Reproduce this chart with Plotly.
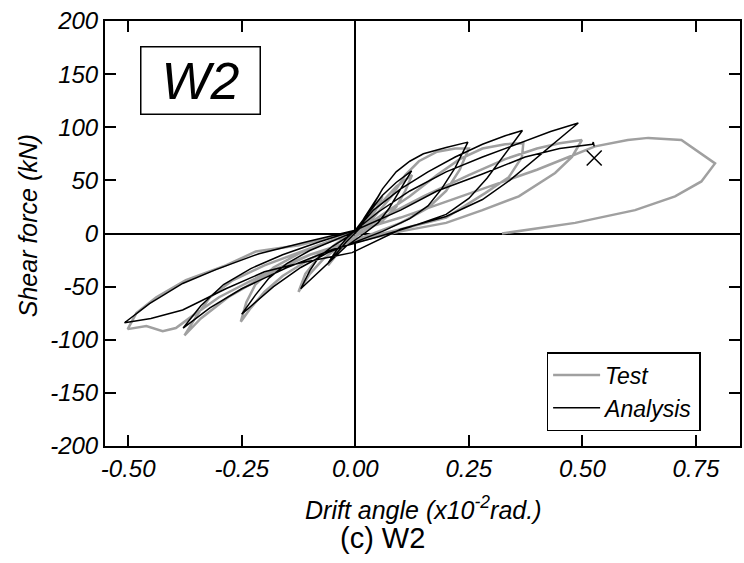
import plotly.graph_objects as go

# ---------------- data ----------------
# Test (grey) hysteresis path
test_x = [0.0, 0.02, 0.04, 0.06, 0.045, 0.02, 0.0, -0.03, -0.06, -0.045, -0.02, 0.0,
          0.03, 0.06, 0.09, 0.125, 0.11, 0.09, 0.06, 0.02, -0.03, -0.07, -0.10, -0.125, -0.11, -0.08, -0.04, 0.0,
          0.04, 0.08, 0.11, 0.14, 0.18, 0.22, 0.25, 0.23, 0.20, 0.16, 0.10, 0.04, -0.04, -0.10, -0.16, -0.20, -0.23, -0.252,
          -0.24, -0.22, -0.18, -0.12, -0.06, 0.0,
          0.05, 0.12, 0.18, 0.23, 0.28, 0.33, 0.37, 0.367, 0.338, 0.286, 0.20, 0.10, 0.0, -0.10, -0.20, -0.28, -0.34, -0.376,
          -0.35, -0.32, -0.27, -0.20, -0.12, -0.05, 0.0,
          0.06, 0.15, 0.25, 0.33, 0.40, 0.45, 0.499, 0.477, 0.44, 0.36, 0.28, 0.20, 0.10, 0.0, -0.10, -0.20, -0.30, -0.36,
          -0.395, -0.424, -0.46, -0.501, -0.482, -0.438, -0.373, -0.285, -0.219, -0.124, -0.05, 0.0,
          0.10, 0.20, 0.30, 0.40, 0.47, 0.528, 0.60, 0.645, 0.718, 0.792, 0.762, 0.704, 0.616, 0.484, 0.323]
test_y = [0, 12, 25, 35, 22, 6, -4, -14, -30, -18, -6, 2,
          15, 30, 44, 55, 40, 25, 12, 2, -10, -24, -38, -55, -38, -22, -9, 1,
          15, 35, 55, 68, 77, 80, 80, 60, 40, 24, 10, 0, -12, -24, -40, -55, -70, -83,
          -65, -48, -32, -18, -8, 0,
          15, 35, 55, 70, 80, 84, 85, 72, 53, 38, 15, 4, -6, -20, -40, -60, -80, -96,
          -78, -60, -44, -30, -17, -6, 0,
          15, 35, 55, 70, 80, 85, 88, 72, 57, 35, 22, 10, 2, -8, -20, -38, -60, -78,
          -89, -92, -87, -90, -75, -60, -44, -30, -17, -11, -3, 2,
          15, 30, 45, 60, 72, 82, 88, 90, 88, 66, 49, 35, 22, 10, 0]

# Analysis (black) hysteresis path
ana_x = [0.0, 0.02, 0.04, 0.055, 0.03, 0.01, -0.02, -0.045, -0.06, -0.04, -0.02, 0.0,
         0.03, 0.06, 0.09, 0.124, 0.10, 0.075, 0.05, 0.02, -0.02, -0.06, -0.09, -0.12,
         -0.10, -0.08, -0.05, -0.02, 0.0,
         0.03, 0.06, 0.09, 0.12, 0.15, 0.20, 0.248, 0.22, 0.19, 0.16, 0.12, 0.06, 0.0, -0.06, -0.12, -0.18, -0.25,
         -0.22, -0.19, -0.15, -0.10, -0.05, 0.0,
         0.04, 0.10, 0.16, 0.22, 0.28, 0.33, 0.368, 0.33, 0.29, 0.25, 0.20, 0.12, 0.05, -0.05, -0.15, -0.25, -0.32, -0.379,
         -0.34, -0.29, -0.23, -0.16, -0.08, 0.0,
         0.05, 0.12, 0.20, 0.28, 0.36, 0.43, 0.491, 0.40, 0.34, 0.28, 0.20, 0.10, -0.007, -0.124, -0.20, -0.285, -0.38, -0.45, -0.508,
         -0.453, -0.38, -0.307, -0.212, -0.10, 0.0,
         0.10, 0.18, 0.28, 0.374, 0.45, 0.50, 0.522, 0.524, 0.526]
ana_y = [0, 15, 28, 38, 20, 5, -8, -20, -28, -15, -5, 3,
         20, 36, 48, 59, 42, 24, 10, 0, -12, -28, -40, -52,
         -35, -22, -12, -4, 3,
         20, 42, 58, 68, 75, 81, 86, 62, 42, 26, 14, 2, -8, -18, -32, -50, -76,
         -58, -42, -28, -16, -7, 2,
         22, 42, 58, 72, 84, 92, 97, 75, 52, 33, 18, 6, -3, -15, -32, -52, -70, -89,
         -68, -48, -33, -20, -8, 3,
         20, 40, 58, 72, 85, 96, 104, 72, 50, 32, 16, 4, -18, -28, -36, -52, -72, -80, -84,
         -66, -47, -34, -19, -7, 3,
         22, 40, 56, 72, 80, 83, 84, 86, 82]

fail_x = [0.526]
fail_y = [71]

x_ticks = [-0.50, -0.25, 0.00, 0.25, 0.50, 0.75]
x_tick_labels = ["-0.50", "-0.25", "0.00", "0.25", "0.50", "0.75"]
y_ticks = [200, 150, 100, 50, 0, -50, -100, -150, -200]
y_tick_labels = ["200", "150", "100", "50", "0", "-50", "-100", "-150", "-200"]

FONT = "Liberation Sans, Arial, sans-serif"

fig = go.Figure()
fig.add_trace(go.Scatter(x=test_x, y=test_y, mode="lines", name="Test",
                         line=dict(color="#a0a0a0", width=2.5)))
fig.add_trace(go.Scatter(x=ana_x, y=ana_y, mode="lines", name="Analysis",
                         line=dict(color="black", width=1.5)))
fig.add_trace(go.Scatter(x=fail_x, y=fail_y, mode="markers", showlegend=False,
                         marker=dict(symbol="x-thin", size=15,
                                     line=dict(color="black", width=1.5))))

axis_common = dict(showline=True, linecolor="black", linewidth=2, mirror="ticks",
                   ticks="inside", ticklen=11, tickwidth=2, tickcolor="black",
                   showgrid=False, zeroline=True, zerolinecolor="black", zerolinewidth=1.5,
                   tickfont=dict(family=FONT, size=24, color="black", style="italic"))

fig.update_layout(
    width=744, height=563,
    margin=dict(l=105, r=2, t=21, b=117),
    paper_bgcolor="white", plot_bgcolor="white",
    font=dict(family=FONT, color="black"),
    xaxis=dict(range=[-0.551, 0.847], tickvals=x_ticks, ticktext=x_tick_labels, **axis_common),
    yaxis=dict(range=[-200, 200], tickvals=y_ticks, ticktext=y_tick_labels, **axis_common),
    legend=dict(x=(548 - 105) / 637, y=(446 - 352) / 425, xanchor="left", yanchor="top",
                bordercolor="black", borderwidth=1.5, bgcolor="white",
                font=dict(family=FONT, size=23, color="black", style="italic"),
                tracegroupgap=0, itemwidth=47),
    showlegend=True,
    annotations=[
        dict(text="W2", xref="paper", yref="paper", x=(201 - 105) / 637, y=(446 - 80.5) / 425,
             xanchor="center", yanchor="middle", showarrow=False,
             font=dict(family=FONT, size=52, color="black", style="italic"),
             bordercolor="black", borderwidth=1.5, width=116, height=64, bgcolor="white"),
        dict(text="Drift angle (x10<sup>-2</sup>rad.)", xref="paper", yref="paper",
             x=(425 - 105) / 637, y=(446 - 508) / 425, xanchor="center", yanchor="middle",
             showarrow=False,
             font=dict(family=FONT, size=25, color="black", style="italic")),
        dict(text="(c) W2", xref="paper", yref="paper",
             x=(383 - 105) / 637, y=(446 - 538) / 425, xanchor="center", yanchor="middle",
             showarrow=False, font=dict(family=FONT, size=29, color="black")),
        dict(text="Shear force (kN)", xref="paper", yref="paper", textangle=-90,
             x=(28 - 105) / 637, y=(446 - 226) / 425, xanchor="center", yanchor="middle",
             showarrow=False,
             font=dict(family=FONT, size=25, color="black", style="italic")),
    ],
)

fig.write_html("out.html")
